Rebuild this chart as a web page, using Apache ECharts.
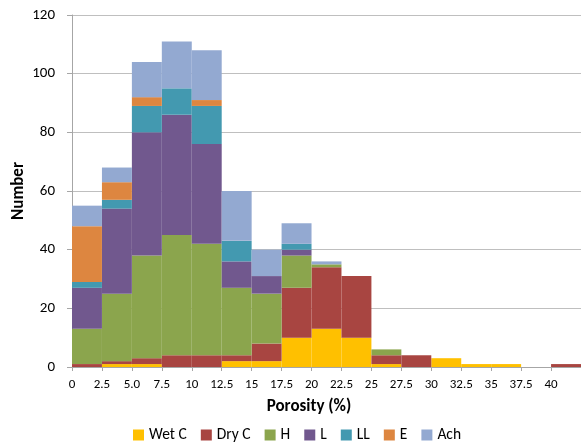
<!DOCTYPE html>
<html>
<head>
<meta charset="utf-8">
<script src="https://cdn.jsdelivr.net/npm/echarts@6/dist/echarts.min.js"></script>
<style>
html,body{margin:0;padding:0;background:#fff;}
#chart{width:581px;height:445px;}
</style>
</head>
<body>
<div id="chart"></div>
<script>
// Bins of 2.5 % porosity: 0-2.5, 2.5-5, ... 40-42.5
var bins = ['0-2.5','2.5-5','5-7.5','7.5-10','10-12.5','12.5-15','15-17.5','17.5-20','20-22.5','22.5-25','25-27.5','27.5-30','30-32.5','32.5-35','35-37.5','37.5-40','40-42.5'];
var tickLabels = ['0','2.5','5.0','7.5','10','12.5','15','17.5','20','22.5','25','27.5','30','32.5','35','37.5','40'];
var seriesNames = ['Wet C','Dry C','H','L','LL','E','Ach'];
var wetC = [0,1,1,0,0,2,2,10,13,10,1,0,3,1,1,0,0];
var dryC = [1,1,2,4,4,2,6,17,21,21,3,4,0,0,0,0,1];
var hVal = [12,23,35,41,38,23,17,11,1,0,2,0,0,0,0,0,0];
var lVal = [14,29,42,41,34,9,6,2,0,0,0,0,0,0,0,0,0];
var llVal = [2,3,9,9,13,7,0,2,0,0,0,0,0,0,0,0,0];
var eVal = [19,6,3,0,2,0,0,0,0,0,0,0,0,0,0,0,0];
var achVal = [7,5,12,16,17,17,9,7,1,0,0,0,0,0,0,0,0];
var colors = ['#FFC000','#A84541','#8BA54D','#71588E','#4399B0','#DD8640','#93A9D1'];

var dataSets = [wetC, dryC, hVal, lVal, llVal, eVal, achVal];
var fontFam = 'Carlito, Lato, "Open Sans", sans-serif';

var chart = echarts.init(document.getElementById('chart'), null, {renderer:'canvas'});
var series = seriesNames.map(function(n, i){
  return {
    name: n, type: 'bar', stack: 'all', xAxisIndex: 0,
    data: dataSets[i], barCategoryGap: '0%', barGap: '0%',
    itemStyle: {color: colors[i]}, animation: false
  };
});
chart.setOption({
  animation: false,
  textStyle: {fontFamily: fontFam},
  grid: {left: 72, right: 0, top: 15, bottom: 78, containLabel: false, outerBoundsMode: 'none'},
  title: {
    text: 'Porosity (%)', left: 309, top: 398, textAlign: 'center', padding: 0,
    textStyle: {fontFamily: fontFam, fontSize: 17, fontWeight: 'bold', color: '#000'}
  },
  legend: {
    data: seriesNames, left: 133, top: 427, icon: 'rect',
    itemWidth: 11, itemHeight: 11, itemGap: 14, padding: 0,
    textStyle: {fontFamily: fontFam, fontSize: 15.5, color: '#000'}
  },
  xAxis: [
    {type: 'category', data: bins, show: false, boundaryGap: true},
    {type: 'value', min: 0, max: 42.5, interval: 2.5, position: 'bottom',
     axisLine: {show: true, lineStyle: {color: '#A6A6A6'}},
     axisTick: {show: true, length: 4, lineStyle: {color: '#A6A6A6'}},
     splitLine: {show: false},
     axisLabel: {
       color: '#000', fontSize: 13, fontFamily: fontFam, margin: 11,
       formatter: function(v){ var i = Math.round(v/2.5); return i < tickLabels.length ? tickLabels[i] : ''; }
     }}
  ],
  yAxis: {
    type: 'value', min: 0, max: 120, interval: 20,
    name: 'Number', nameLocation: 'middle', nameGap: 45, nameMoveOverlap: false,
    nameTextStyle: {fontFamily: fontFam, fontSize: 17, fontWeight: 'bold', color: '#000'},
    axisLine: {show: true, lineStyle: {color: '#A6A6A6'}},
    axisTick: {show: true, length: 5, lineStyle: {color: '#A6A6A6'}},
    splitLine: {show: true, lineStyle: {color: '#BFBFBF'}},
    axisLabel: {color: '#000', fontSize: 15, fontFamily: fontFam, margin: 17}
  },
  series: series
});
</script>
</body>
</html>
